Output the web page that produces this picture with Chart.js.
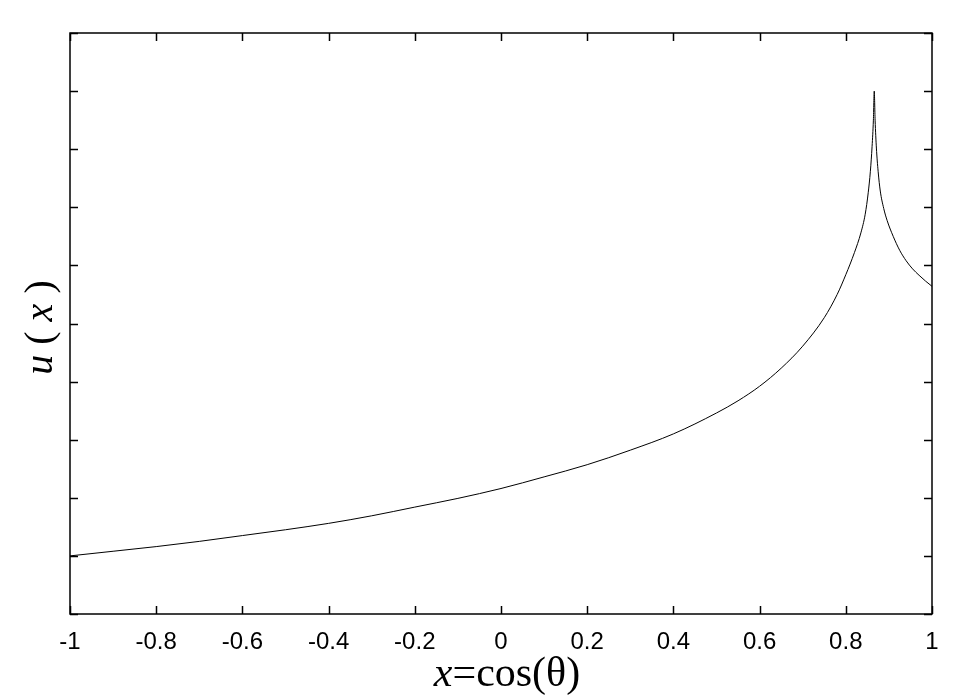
<!DOCTYPE html>
<html>
<head>
<meta charset="utf-8">
<script src="https://cdn.jsdelivr.net/npm/chart.js@4"></script>
<style>
  html, body { margin: 0; padding: 0; background: #fff; }
  #wrap { width: 977px; height: 698px; }
</style>
</head>
<body>
<div id="wrap"><canvas id="myChart" width="977" height="698"></canvas></div>
<script>
// valores
const posX = [-1, -0.9, -0.8, -0.7, -0.6, -0.5, -0.4, -0.3, -0.2, -0.1, 0, 0.1, 0.2, 0.3, 0.4, 0.5, 0.55, 0.6, 0.65, 0.7, 0.75, 0.78, 0.8, 0.82, 0.835, 0.845, 0.852, 0.857, 0.861, 0.864, 0.866, 0.868, 0.871, 0.875, 0.88, 0.888, 0.896, 0.91, 0.925, 0.94, 0.955, 0.97, 0.985, 1.0];
const valoresU = [1.00, 1.08, 1.16, 1.25, 1.35, 1.45, 1.56, 1.69, 1.84, 1.99, 2.16, 2.36, 2.57, 2.82, 3.10, 3.46, 3.67, 3.92, 4.23, 4.61, 5.10, 5.50, 5.84, 6.22, 6.56, 6.88, 7.25, 7.62, 8.05, 8.50, 9.00, 8.50, 8.02, 7.62, 7.28, 6.98, 6.77, 6.50, 6.26, 6.08, 5.94, 5.83, 5.73, 5.64];
const ticksX = [-1, -0.8, -0.6, -0.4, -0.2, 0, 0.2, 0.4, 0.6, 0.8, 1];
const ticksY = [0, 1, 2, 3, 4, 5, 6, 7, 8, 9, 10];

const puntos = posX.map((x, i) => ({ x: x, y: valoresU[i] }));

const marco = {
  id: 'marco',
  afterDraw(chart) {
    const ctx = chart.ctx;
    const a = chart.chartArea;
    const sx = chart.scales.x, sy = chart.scales.y;
    ctx.save();
    ctx.strokeStyle = '#000';
    ctx.lineWidth = 1.5;
    ctx.strokeRect(a.left, a.top, a.right - a.left, a.bottom - a.top);
    const largo = 8;
    ctx.beginPath();
    ticksX.forEach(v => {
      const px = Math.round(sx.getPixelForValue(v)) + 0.5;
      ctx.moveTo(px, a.bottom); ctx.lineTo(px, a.bottom - largo);
      ctx.moveTo(px, a.top); ctx.lineTo(px, a.top + largo);
    });
    ticksY.forEach(v => {
      const py = Math.round(sy.getPixelForValue(v)) + 0.5;
      ctx.moveTo(a.left, py); ctx.lineTo(a.left + largo, py);
      ctx.moveTo(a.right, py); ctx.lineTo(a.right - largo, py);
    });
    ctx.stroke();

    // titulo eje x: x=cos(θ)
    ctx.fillStyle = '#000';
    ctx.textBaseline = 'alphabetic';
    const f1 = 'italic 42px "Liberation Serif"';
    const f2 = '42px "Liberation Serif"';
    const t1 = 'x', t2 = '=cos(θ)';
    ctx.font = f1; const w1 = ctx.measureText(t1).width;
    ctx.font = f2; const w2 = ctx.measureText(t2).width;
    const cx = (a.left + a.right) / 2 + 6;
    let xs = cx - (w1 + w2) / 2;
    ctx.font = f1; ctx.textAlign = 'left'; ctx.fillText(t1, xs, 686);
    ctx.font = f2; ctx.fillText(t2, xs + w1, 686);

    // titulo eje y: u ( x )
    ctx.translate(52, (a.top + a.bottom) / 2 + 4);
    ctx.rotate(-Math.PI / 2);
    const partes = [['u', true], [' ( ', false], ['x', true], [' )', false]];
    let total = 0;
    partes.forEach(p => { ctx.font = (p[1] ? 'italic ' : '') + '40px "Liberation Serif"'; total += ctx.measureText(p[0]).width; });
    let pos = -total / 2;
    partes.forEach(p => {
      ctx.font = (p[1] ? 'italic ' : '') + '40px "Liberation Serif"';
      ctx.fillText(p[0], pos, 0);
      pos += ctx.measureText(p[0]).width;
    });
    ctx.restore();
  }
};

const grafica = document.getElementById('myChart').getContext('2d');
new Chart(grafica, {
  type: 'scatter',
  data: {
    datasets: [{
      label: 'u(x)',
      data: puntos,
      showLine: true,
      borderColor: '#000',
      borderWidth: 1,
      pointRadius: 0,
      cubicInterpolationMode: 'monotone'
    }]
  },
  options: {
    responsive: false,
    animation: false,
    layout: { padding: { left: 0, top: 33, right: 45, bottom: 0 } },
    plugins: { legend: { display: false }, tooltip: { enabled: false } },
    scales: {
      x: {
        type: 'linear',
        min: -1, max: 1,
        afterBuildTicks: s => { s.ticks = ticksX.map(v => ({ value: v })); },
        afterFit: s => { s.height = 84; },
        grid: { display: false, drawTicks: false },
        border: { display: false },
        ticks: {
          padding: 14,
          color: '#000',
          maxRotation: 0,
          autoSkip: false,
          font: { family: '"Liberation Sans"', size: 24 },
          callback: v => String(+v.toFixed(1))
        }
      },
      y: {
        type: 'linear',
        min: 0, max: 10,
        afterBuildTicks: s => { s.ticks = ticksY.map(v => ({ value: v })); },
        afterFit: s => { s.width = 70; },
        grid: { display: false, drawTicks: false },
        border: { display: false },
        ticks: { display: false }
      }
    }
  },
  plugins: [marco]
});
</script>
</body>
</html>
